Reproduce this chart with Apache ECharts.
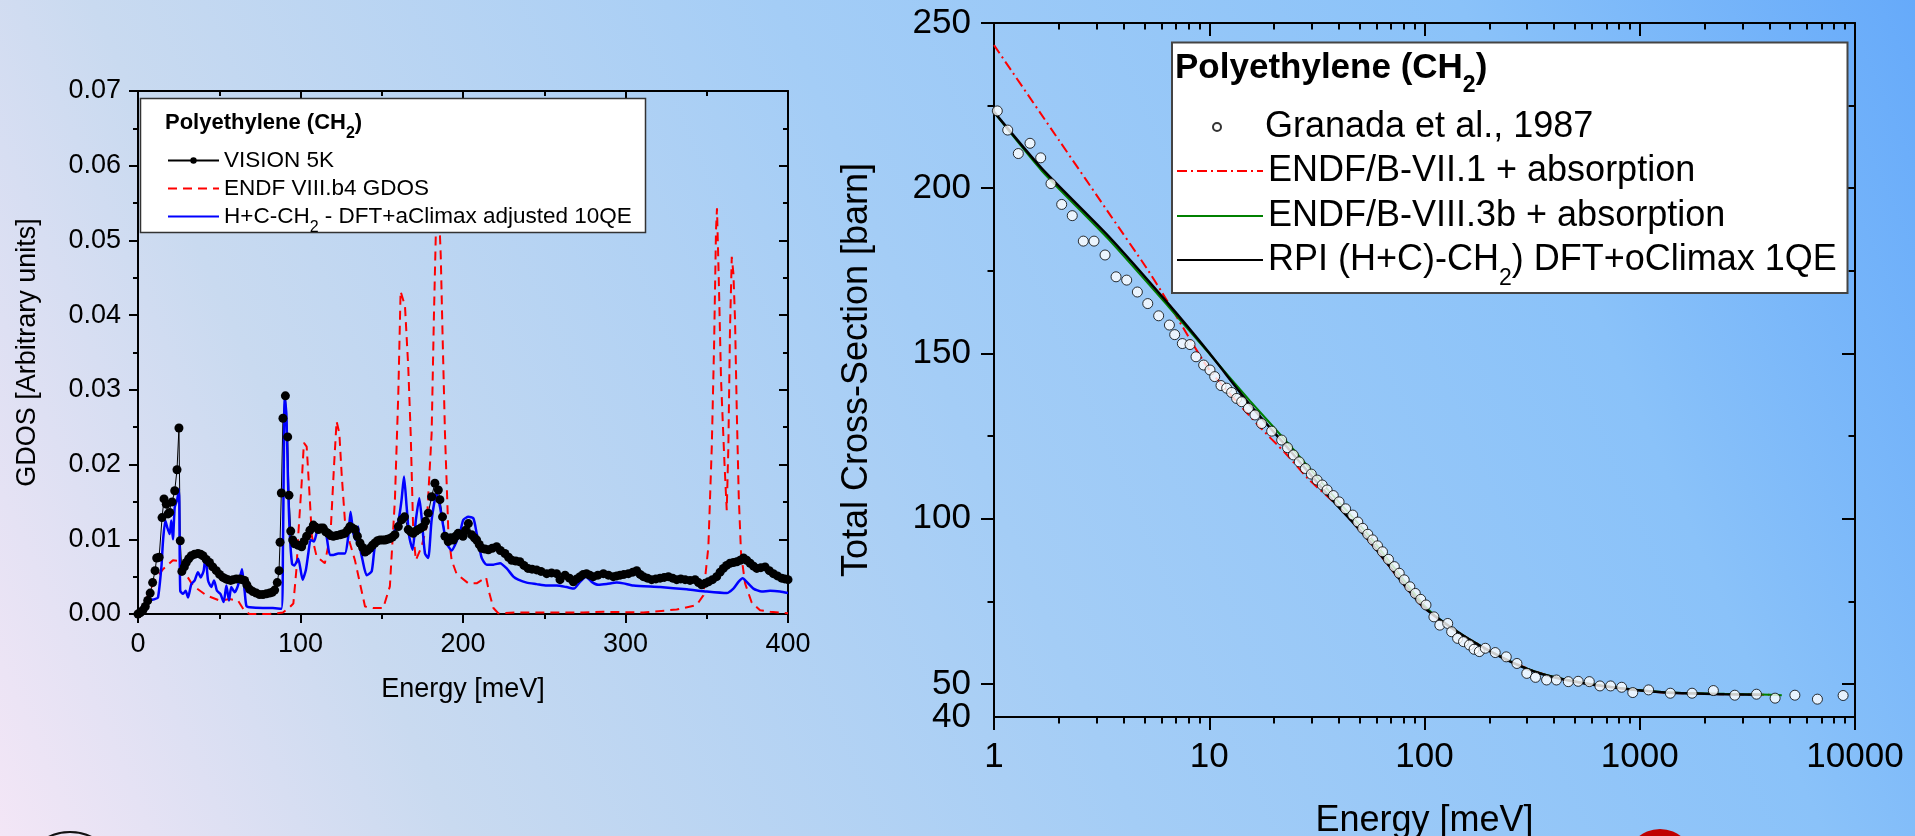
<!DOCTYPE html>
<html>
<head>
<meta charset="utf-8">
<script src="https://cdn.jsdelivr.net/npm/echarts@6/dist/echarts.min.js"></script>
<style>
html,body{margin:0;padding:0;width:1915px;height:836px;overflow:hidden;}
#chart{width:1915px;height:836px;}
</style>
</head>
<body>
<div id="chart"></div>
<script>
// ---------------- Left panel: GDOS vs Energy [meV] ----------------
const visionGdos = [[0,0],[1.5,0.0002],[3,0.0005],[4.5,0.001],[6,0.0018],[7.5,0.0028],[9,0.0042],[10.5,0.0058],[11.5,0.0075],[13,0.0076],[14.8,0.0129],[16,0.0154],[17.4,0.0147],[18.5,0.0134],[19.5,0.0136],[21,0.015],[22.6,0.0165],[24,0.0193],[25.2,0.0249],[26,0.0098],[27,0.0057],[28.5,0.0063],[29.7,0.0069],[31.2,0.0074],[32.8,0.0078],[34.8,0.008],[36.9,0.0081],[38.5,0.008],[40,0.0078],[42,0.0073],[44,0.0069],[46,0.0063],[48.2,0.0058],[50.2,0.0053],[52.3,0.0049],[54,0.0047],[55.4,0.0046],[57,0.0045],[58.5,0.0046],[60.5,0.0047],[62.6,0.0047],[64,0.0046],[65.6,0.0045],[67,0.0039],[68.7,0.0033],[70.7,0.003],[72.8,0.0028],[74.8,0.0026],[76.9,0.0026],[79,0.0027],[81,0.0028],[82.6,0.0029],[84.1,0.0032],[85.7,0.0042],[86.8,0.0058],[87.4,0.0096],[88.2,0.0162],[89.2,0.0262],[90.7,0.0292],[92.1,0.0237],[92.9,0.0159],[94,0.0111],[95.2,0.0099],[96.4,0.0094],[98.6,0.0092],[100.7,0.009],[102.2,0.0097],[103.8,0.0104],[105.8,0.0112],[107.9,0.0119],[109.5,0.0116],[111,0.0113],[112.5,0.0115],[114,0.0115],[115.5,0.011],[117,0.0108],[118.6,0.0105],[120.2,0.0104],[122.2,0.0105],[124.3,0.0106],[125.8,0.0107],[127.3,0.0108],[128.9,0.0112],[130.4,0.0117],[132,0.0115],[133.5,0.0113],[135,0.0104],[136.6,0.0095],[138.2,0.0089],[139.7,0.0083],[141.2,0.0085],[142.7,0.0088],[144.3,0.0092],[145.8,0.0095],[147.4,0.0098],[148.9,0.0099],[150.5,0.0099],[152,0.0099],[153.5,0.01],[155,0.0101],[156.6,0.0103],[158.1,0.0106],[160.2,0.0117],[162.2,0.0126],[164,0.013],[166.3,0.0113],[167.8,0.011],[169.4,0.0108],[171,0.0111],[172.5,0.0113],[174,0.0115],[175.6,0.0117],[177,0.0124],[178.6,0.0135],[180.7,0.0157],[182.7,0.0175],[184.8,0.0166],[185.8,0.0153],[187.4,0.013],[188.9,0.0104],[190.9,0.0097],[192.5,0.0102],[194,0.0099],[195.5,0.0104],[197,0.0108],[198.5,0.0106],[200,0.0104],[201.6,0.0112],[203.3,0.0121],[205.3,0.0106],[207,0.0102],[208.4,0.0099],[210,0.0093],[211.5,0.0088],[213.5,0.0087],[215.6,0.0086],[218,0.0088],[220.7,0.009],[223,0.0085],[225.8,0.0081],[228,0.0076],[230,0.0072],[232.5,0.0071],[235,0.007],[237.5,0.0065],[240,0.0061],[242.5,0.006],[245.3,0.0059],[248,0.0057],[251.5,0.0054],[254.5,0.0055],[257.6,0.0054],[259.7,0.0046],[262.8,0.0052],[265.5,0.0048],[267.9,0.0043],[270,0.0047],[272,0.005],[274,0.0053],[276,0.0054],[278,0.0052],[280.2,0.005],[283,0.0052],[286.4,0.0054],[289.5,0.0052],[292.5,0.005],[294.6,0.0051],[296.7,0.0052],[299,0.0053],[301.8,0.0054],[304.5,0.0056],[306.9,0.0058],[309,0.0053],[311,0.005],[313.5,0.0048],[316.1,0.0046],[318.7,0.0047],[321.3,0.0048],[323.8,0.0049],[326.4,0.005],[329,0.0048],[331.5,0.0046],[334,0.0047],[336.7,0.0046],[339.7,0.0045],[342.8,0.0046],[344.9,0.0042],[346.9,0.0039],[349,0.0041],[351,0.0043],[353.5,0.0046],[356.1,0.005],[358.2,0.0056],[360.2,0.0061],[362.2,0.0065],[364.3,0.0068],[366.4,0.0069],[368.5,0.007],[370.6,0.0072],[372.6,0.0075],[374.6,0.0072],[376.7,0.0068],[378.8,0.0064],[380.8,0.0061],[383.3,0.0062],[385.9,0.0063],[388.5,0.0058],[391,0.0054],[393.5,0.0051],[396.1,0.0048],[398,0.0047],[400,0.0046]];

const endfGdos = [[0,0],[5.1,0.002],[10.3,0.0045],[15.4,0.006],[21.5,0.0072],[25.6,0.0071],[28.7,0.0056],[33.8,0.0038],[42,0.0025],[50.3,0.0018],[56.4,0.002],[61.5,0.0018],[65.6,0.0004],[68.7,0],[81,0],[89.2,0.0002],[93.3,0.0009],[95.6,0.0014],[97.5,0.006],[98.6,0.0105],[100.7,0.0175],[102.1,0.0229],[103.8,0.0224],[105.4,0.0166],[107,0.0104],[109.9,0.0077],[115,0.0068],[118.5,0.0108],[120.6,0.0197],[122.2,0.0258],[123.9,0.0242],[125.3,0.0188],[127.3,0.0126],[130.4,0.0095],[133.5,0.0072],[136.6,0.0041],[139.7,0.001],[144.8,0.0008],[150.9,0.0008],[155,0.0037],[158.1,0.0153],[160.2,0.0296],[161.6,0.0432],[164.3,0.0412],[166.3,0.0331],[167.8,0.0242],[169.4,0.0108],[171,0.0072],[174.5,0.009],[177.6,0.0117],[180.7,0.0242],[182.1,0.0398],[183.5,0.053],[185,0.055],[186.3,0.048],[187.4,0.0376],[188.9,0.0242],[191,0.0108],[193,0.0072],[196,0.0054],[198.2,0.005],[203.3,0.0041],[208.4,0.0041],[214.2,0.0049],[216.2,0.0028],[218.7,0.0008],[221.7,0.0001],[233,0.0002],[253.5,0.0002],[274,0.0002],[286.4,0.0003],[311,0.0002],[331.5,0.0006],[343.8,0.0012],[347.9,0.0025],[351,0.009],[353.1,0.0224],[354.5,0.0358],[355.7,0.0514],[356.3,0.0543],[357.4,0.0448],[358.8,0.0313],[360.9,0.0202],[362.3,0.0139],[363.3,0.0224],[364.3,0.038],[365.4,0.0478],[366.4,0.0456],[367.4,0.0394],[368.5,0.0269],[369.7,0.0157],[371.1,0.0081],[373.6,0.0041],[377.7,0.0015],[382.8,0.0005],[389,0.0003],[400,0.0001]];

const dftGdos = [[0,0],[4.1,0.0004],[7.2,0.0018],[10.3,0.002],[12.3,0.0022],[14.4,0.0063],[15.4,0.0098],[16.8,0.0125],[18,0.0116],[19.5,0.0107],[20.5,0.0125],[21.5,0.01],[22.6,0.0143],[24,0.0152],[25.2,0.0167],[26,0.0031],[27.7,0.0027],[29.3,0.0031],[30.8,0.0022],[32.8,0.004],[34.9,0.0045],[36.9,0.0056],[38.6,0.0049],[40.4,0.0058],[41.6,0.0078],[43.1,0.0045],[45.1,0.0036],[46.8,0.0045],[48.6,0.0031],[50.7,0.0027],[52.7,0.0016],[54.4,0.0038],[56,0.0018],[57.4,0.0036],[59.5,0.0029],[61.5,0.0038],[64,0.006],[65.6,0.0031],[66.7,0.0011],[68.7,0.0009],[76.9,0.0008],[83,0.0008],[88.2,0.0007],[89.2,0.0089],[90.3,0.029],[91.3,0.0268],[92.3,0.0179],[93.3,0.0112],[94.8,0.0067],[96.2,0.0065],[98.6,0.0074],[101.3,0.0046],[103.3,0.0059],[104.8,0.0081],[106.2,0.0099],[108.3,0.0097],[111,0.0115],[114,0.0113],[116,0.0104],[118.1,0.0079],[120.2,0.0079],[123.2,0.0081],[127.3,0.0081],[129.4,0.0104],[130.8,0.0137],[132.5,0.0108],[134.1,0.0099],[135.5,0.0117],[136.6,0.009],[138.2,0.0072],[140.7,0.0052],[143.8,0.0057],[145.8,0.009],[148.9,0.0097],[153,0.0099],[157.1,0.0108],[160.2,0.0124],[162.2,0.0153],[163.7,0.0184],[165.3,0.0144],[166.9,0.0104],[169,0.0086],[171,0.0126],[173.1,0.0155],[174.5,0.013],[176.6,0.0081],[178.6,0.0075],[180.7,0.0126],[183.8,0.0162],[185.8,0.0144],[187.9,0.0117],[189.9,0.0095],[193,0.0085],[196,0.0097],[198.5,0.0112],[200.2,0.0126],[203.3,0.013],[206.4,0.0128],[208.4,0.0108],[211.5,0.0075],[214.6,0.0066],[218.7,0.0066],[222.8,0.0068],[226.9,0.0061],[231,0.005],[234,0.0046],[239.2,0.0042],[245.3,0.004],[251.5,0.0038],[257.6,0.0038],[263.8,0.0036],[268.3,0.0034],[272,0.0043],[275.7,0.005],[279.2,0.0043],[283.3,0.0039],[288.4,0.004],[294.6,0.0042],[298.7,0.0041],[304.9,0.0038],[321.3,0.0036],[337.7,0.0033],[350,0.003],[362.3,0.0028],[366.4,0.0034],[369.5,0.0043],[372.1,0.0048],[374.6,0.0043],[378.7,0.0034],[383.8,0.003],[389,0.0031],[395.1,0.003],[400,0.0028]];

// ---------------- Right panel: total cross section vs Energy [meV] ----------------
const granada = [[1.036,223.4],[1.158,217.6],[1.297,210.5],[1.47,213.6],[1.648,209.2],[1.84,201.4],[2.063,195.1],[2.31,191.7],[2.6,184.0],[2.915,184.0],[3.28,179.8],[3.69,173.2],[4.135,172.2],[4.635,168.6],[5.18,165.1],[5.82,161.4],[6.53,158.6],[6.91,155.7],[7.5,153.0],[8.14,152.7],[8.68,149.0],[9.42,146.5],[10.08,145.0],[10.6,143.0],[11.34,140.3],[12.05,139.5],[12.7,138.2],[13.4,136.4],[14.15,135.4],[15.2,133.4],[16.3,131.4],[17.5,128.8],[19.5,126.5],[21.7,123.8],[23.1,121.5],[24.6,119.3],[26.2,117.2],[27.97,115.2],[29.8,113.5],[31.7,111.7],[33.5,110.2],[35.3,108.7],[37.7,107.0],[40.1,105.1],[43,103.0],[46.4,101.1],[49,99.0],[51.6,97.1],[54.5,95.3],[57.4,93.6],[60.5,91.8],[63.8,90.0],[68,87.7],[72.4,85.5],[76.3,83.5],[80.5,81.5],[85.5,79.4],[90.6,77.4],[96,75.6],[101.6,73.9],[110.6,70.3],[117.8,67.8],[128.2,68.3],[133.7,65.8],[142.5,63.8],[151.8,62.8],[161.8,61.8],[170,60.5],[179.8,59.8],[191.7,60.8],[213.1,59.5],[239.8,58.2],[268.8,56.2],[298.7,53.2],[327.9,52.0],[369.2,51.2],[410.2,51.2],[465.7,50.7],[517.6,50.8],[583,50.7],[653,49.4],[732,49.4],[824,49.0],[928,47.4],[1099,48.2],[1387,47.2],[1750,47.2],[2198,48.0],[2764,46.6],[3486,46.9],[4255,45.7],[5257,46.6],[6690,45.4],[8806,46.5]];

const endf71 = [[1,243.3],[2,214.6],[3.5,191.5],[5.12,175.8],[6.34,166.2],[9.9,145.5],[16.8,128.4],[22.6,119.8],[29.2,111.7],[39.2,104.1],[55,93.4],[77.2,81.3],[95.3,74.2],[112.9,70.2],[158.4,63.9],[231.8,57.9],[325,53.8],[456,51.2],[696,49.2],[1313,47.4],[2476,46.9],[4000,46.7]];

const endf83b = [[1,223],[1.666,205.3],[3.4,184.6],[6.46,164.2],[9.9,150.3],[15.5,135.6],[23.6,122.3],[36.1,108.3],[55,95],[77.2,82.8],[95.3,75.2],[112.9,70.5],[158.4,63.9],[231.8,57.9],[325,53.8],[456,51.3],[696,49.3],[1313,47.5],[2476,47],[3624,46.8],[4570,46.6]];

const rpi = [[1,223.1],[1.666,206],[3.4,185.5],[6.46,165],[9.9,150.5],[15.5,134.4],[23.6,120.8],[36.1,106.7],[55,93.6],[77.2,81.5],[95.3,74.4],[112.9,70.3],[158.4,63.8],[231.8,57.8],[325,53.7],[456,51.2],[696,49.2],[1313,47.4],[2476,46.9],[3624,46.7]];

// tick label / tick position lists
const rightYLabels = [50, 100, 150, 200, 250];
const rightYMinLabel = [40];
const rightYMajor = [50, 100, 150, 200, 250];
const rightYMinor = [75, 125, 175, 225];
const logMinor = [2,3,4,5,6,7,8,9,20,30,40,50,60,70,80,90,200,300,400,500,600,700,800,900,2000,3000,4000,5000,6000,7000,8000,9000];

const FONT = 'Liberation Sans, Arial, Helvetica, sans-serif';
const BLACK = '#000000';

const chart = echarts.init(document.getElementById('chart'), null, {renderer: 'canvas'});

const axisLineS = {show: true, onZero: false, lineStyle: {color: BLACK, width: 2}};
const tickLS = {color: BLACK, width: 2};

function legendItem(left, top, name, fs, subFs, subPad, itemW, itemH, fmt) {
  return {
    show: true, left: left, top: top, padding: 0, itemGap: 0, z: 6,
    selectedMode: false, orient: 'horizontal',
    itemWidth: itemW, itemHeight: itemH,
    data: [name],
    formatter: fmt,
    textStyle: {
      color: BLACK, fontFamily: FONT, fontSize: fs,
      rich: {
        m: {fontSize: fs, fontFamily: FONT, color: BLACK, verticalAlign: 'middle'},
        s: {fontSize: subFs, fontFamily: FONT, color: BLACK, verticalAlign: 'bottom', padding: [subPad, 0, 0, 0]}
      }
    }
  };
}

const option = {
  animation: false,
  backgroundColor: {
    type: 'linear', x: 0, y: 836, x2: 1915, y2: 0, global: true,
    colorStops: [
      {offset: 0, color: '#f3e6f6'},
      {offset: 0.2, color: '#c9daf0'},
      {offset: 0.5, color: '#a4cdf6'},
      {offset: 0.8, color: '#8ac2f9'},
      {offset: 1, color: '#66aafa'}
    ]
  },
  textStyle: {fontFamily: FONT, color: BLACK},
  title: [
    {
      left: 165, top: 103, padding: 0, z: 7,
      text: '{m|Polyethylene (CH}{s|2}{m|)}',
      textStyle: {
        fontSize: 22, fontWeight: 'bold', fontFamily: FONT, color: BLACK,
        rich: {
          m: {fontSize: 22, fontWeight: 'bold', fontFamily: FONT, color: BLACK, verticalAlign: 'middle'},
          s: {fontSize: 16, fontWeight: 'bold', fontFamily: FONT, color: BLACK, verticalAlign: 'bottom', padding: [23, 0, 0, 0]}
        }
      }
    },
    {
      left: 1175, top: 40, padding: 0, z: 7,
      text: '{m|Polyethylene (CH}{s|2}{m|)}',
      textStyle: {
        fontSize: 35, fontWeight: 'bold', fontFamily: FONT, color: BLACK,
        rich: {
          m: {fontSize: 35, fontWeight: 'bold', fontFamily: FONT, color: BLACK, verticalAlign: 'middle'},
          s: {fontSize: 23, fontWeight: 'bold', fontFamily: FONT, color: BLACK, verticalAlign: 'bottom', padding: [34, 0, 0, 0]}
        }
      }
    }
  ],
  legend: [
    legendItem(167, 149, 'VISION 5K', 22.5, 16, 22, 51, 8, n => '{m|VISION 5K}'),
    legendItem(167, 177, 'ENDF VIII.b4 GDOS', 22.5, 16, 22, 51, 8, n => '{m|ENDF VIII.b4 GDOS}'),
    legendItem(167, 205, 'H+C-CH2 - DFT+aClimax adjusted 10QE', 22.5, 16, 22, 51, 8, n => '{m|H+C-CH}{s|2}{m| - DFT+aClimax adjusted 10QE}'),
    legendItem(1212, 109, 'Granada et al., 1987', 36, 23, 38, 86, 8, n => '{m|Granada et al., 1987}'),
    legendItem(1176, 153, 'ENDF/B-VII.1 + absorption', 36, 23, 38, 86, 8, n => '{m|ENDF/B-VII.1 + absorption}'),
    legendItem(1176, 198, 'ENDF/B-VIII.3b + absorption', 36, 23, 38, 86, 8, n => '{m|ENDF/B-VIII.3b + absorption}'),
    legendItem(1176, 242, 'RPI (H+C)-CH2) DFT+oClimax 1QE', 36, 23, 38, 86, 8, n => '{m|RPI (H+C)-CH}{s|2}{m|) DFT+oClimax 1QE}')
  ],
  graphic: [
    {type: 'rect', z: 5, shape: {x: 140.5, y: 98.5, width: 505, height: 134}, style: {fill: '#ffffff', stroke: '#333333', lineWidth: 1.5}},
    {type: 'rect', z: 5, shape: {x: 1172, y: 42.5, width: 675.5, height: 250.5}, style: {fill: '#ffffff', stroke: '#444444', lineWidth: 2}},
    {type: 'circle', z: 1, shape: {cx: 70, cy: 880, r: 48}, style: {fill: 'none', stroke: '#111111', lineWidth: 2}},
    {type: 'circle', z: 1, shape: {cx: 1660, cy: 863, r: 34}, style: {fill: '#c00000'}}
  ],
  grid: [
    {left: 138, top: 91, width: 650, height: 523, containLabel: false, outerBoundsMode: 'none'},
    {left: 994, top: 23, width: 861, height: 694, containLabel: false, outerBoundsMode: 'none'}
  ],
  xAxis: [
    {
      gridIndex: 0, type: 'value', position: 'bottom', min: 0, max: 400, interval: 100,
      axisLine: axisLineS,
      axisTick: {show: true, inside: false, length: 9, lineStyle: tickLS},
      minorTick: {show: true, splitNumber: 2, length: 5, lineStyle: tickLS},
      axisLabel: {show: true, fontSize: 27, color: BLACK, fontFamily: FONT, margin: 17},
      splitLine: {show: false}, minorSplitLine: {show: false},
      name: 'Energy [meV]', nameLocation: 'middle', nameGap: 62,
      nameTextStyle: {fontSize: 27, color: BLACK, fontFamily: FONT}
    },
    {
      gridIndex: 0, type: 'value', position: 'top', min: 0, max: 400, interval: 100,
      axisLine: axisLineS,
      axisTick: {show: true, inside: true, length: 9, lineStyle: tickLS},
      minorTick: {show: true, splitNumber: 2, length: 5, lineStyle: tickLS},
      axisLabel: {show: false}, splitLine: {show: false}
    },
    {
      gridIndex: 1, type: 'log', logBase: 10, position: 'bottom', min: 1, max: 10000,
      axisLine: axisLineS,
      axisTick: {show: true, inside: false, length: 13, lineStyle: tickLS},
      minorTick: {show: false},
      axisLabel: {show: true, fontSize: 35, color: BLACK, fontFamily: FONT, margin: 23, formatter: v => String(v)},
      splitLine: {show: false}, minorSplitLine: {show: false},
      name: 'Energy [meV]', nameLocation: 'middle', nameGap: 86,
      nameTextStyle: {fontSize: 36, color: BLACK, fontFamily: FONT}
    },
    {
      gridIndex: 1, type: 'log', logBase: 10, position: 'bottom', min: 1, max: 10000,
      axisLine: {show: false},
      axisTick: {show: true, inside: false, length: 6.5, lineStyle: tickLS, customValues: logMinor},
      axisLabel: {show: false}, splitLine: {show: false}
    },
    {
      gridIndex: 1, type: 'log', logBase: 10, position: 'top', min: 1, max: 10000,
      axisLine: axisLineS,
      axisTick: {show: true, inside: true, length: 13, lineStyle: tickLS},
      axisLabel: {show: false}, splitLine: {show: false}
    },
    {
      gridIndex: 1, type: 'log', logBase: 10, position: 'top', min: 1, max: 10000,
      axisLine: {show: false},
      axisTick: {show: true, inside: true, length: 6.5, lineStyle: tickLS, customValues: logMinor},
      axisLabel: {show: false}, splitLine: {show: false}
    }
  ],
  yAxis: [
    {
      gridIndex: 0, type: 'value', position: 'left', min: 0, max: 0.07, interval: 0.01,
      axisLine: axisLineS,
      axisTick: {show: true, inside: false, length: 9, lineStyle: tickLS},
      minorTick: {show: true, splitNumber: 2, length: 5, lineStyle: tickLS},
      axisLabel: {show: true, fontSize: 27, color: BLACK, fontFamily: FONT, margin: 17, formatter: v => v.toFixed(2)},
      splitLine: {show: false},
      name: 'GDOS [Arbitrary units]', nameLocation: 'middle', nameGap: 97, nameRotate: 90,
      nameTextStyle: {fontSize: 27, color: BLACK, fontFamily: FONT}
    },
    {
      gridIndex: 0, type: 'value', position: 'right', min: 0, max: 0.07, interval: 0.01,
      axisLine: axisLineS,
      axisTick: {show: true, inside: true, length: 9, lineStyle: tickLS},
      minorTick: {show: true, splitNumber: 2, length: 5, lineStyle: tickLS},
      axisLabel: {show: false}, splitLine: {show: false}
    },
    {
      gridIndex: 1, type: 'value', position: 'left', min: 40, max: 250, interval: 10,
      axisLine: axisLineS,
      axisTick: {show: true, inside: false, length: 13, lineStyle: tickLS, customValues: rightYMajor},
      axisLabel: {show: true, fontSize: 35, color: BLACK, fontFamily: FONT, margin: 23, customValues: rightYLabels, hideOverlap: false},
      splitLine: {show: false},
      name: 'Total Cross-Section [barn]', nameLocation: 'middle', nameGap: 119, nameRotate: 90,
      nameTextStyle: {fontSize: 36, color: BLACK, fontFamily: FONT}
    },
    {
      gridIndex: 1, type: 'value', position: 'left', min: 40, max: 250, interval: 10,
      axisLine: {show: false},
      axisTick: {show: true, inside: false, length: 6.5, lineStyle: tickLS, customValues: rightYMinor},
      axisLabel: {show: true, fontSize: 35, color: BLACK, fontFamily: FONT, margin: 23, customValues: rightYMinLabel, showMinLabel: true, hideOverlap: false},
      splitLine: {show: false}
    },
    {
      gridIndex: 1, type: 'value', position: 'right', min: 40, max: 250, interval: 10,
      axisLine: axisLineS,
      axisTick: {show: true, inside: true, length: 13, lineStyle: tickLS, customValues: rightYMajor},
      axisLabel: {show: false}, splitLine: {show: false}
    },
    {
      gridIndex: 1, type: 'value', position: 'right', min: 40, max: 250, interval: 10,
      axisLine: {show: false},
      axisTick: {show: true, inside: true, length: 6.5, lineStyle: tickLS, customValues: rightYMinor},
      axisLabel: {show: false}, splitLine: {show: false}
    }
  ],
  series: [
    {
      name: 'VISION 5K', type: 'line', xAxisIndex: 0, yAxisIndex: 0, data: visionGdos,
      symbol: 'circle', symbolSize: 9, showAllSymbol: true,
      itemStyle: {color: BLACK}, lineStyle: {color: BLACK, width: 1}, z: 2
    },
    {
      name: 'ENDF VIII.b4 GDOS', type: 'line', xAxisIndex: 0, yAxisIndex: 0, data: endfGdos,
      symbol: 'none', itemStyle: {color: '#ff0000', opacity: 0},
      lineStyle: {color: '#ff0000', width: 2, type: [9, 6]}, z: 2
    },
    {
      name: 'H+C-CH2 - DFT+aClimax adjusted 10QE', type: 'line', xAxisIndex: 0, yAxisIndex: 0, data: dftGdos,
      symbol: 'none', smooth: 0.2, itemStyle: {color: '#0000ff', opacity: 0},
      lineStyle: {color: '#0000ff', width: 2.5}, z: 2
    },
    {
      name: 'Granada et al., 1987', type: 'scatter', xAxisIndex: 2, yAxisIndex: 2, data: granada,
      symbol: 'circle', symbolSize: 10,
      itemStyle: {color: '#ffffff', borderColor: BLACK, borderWidth: 1}, z: 3
    },
    {
      name: 'ENDF/B-VII.1 + absorption', type: 'line', xAxisIndex: 2, yAxisIndex: 2, data: endf71,
      symbol: 'none', smooth: 0.2, itemStyle: {color: '#ff0000', opacity: 0},
      lineStyle: {color: '#ff0000', width: 2, type: [10, 4, 2, 4]}, z: 2
    },
    {
      name: 'ENDF/B-VIII.3b + absorption', type: 'line', xAxisIndex: 2, yAxisIndex: 2, data: endf83b,
      symbol: 'none', smooth: 0.2, itemStyle: {color: '#008000', opacity: 0},
      lineStyle: {color: '#008000', width: 2}, z: 2
    },
    {
      name: 'RPI (H+C)-CH2) DFT+oClimax 1QE', type: 'line', xAxisIndex: 2, yAxisIndex: 2, data: rpi,
      symbol: 'none', smooth: 0.2, itemStyle: {color: BLACK, opacity: 0},
      lineStyle: {color: BLACK, width: 2.5}, z: 2
    }
  ]
};

chart.setOption(option);
</script>
</body>
</html>
